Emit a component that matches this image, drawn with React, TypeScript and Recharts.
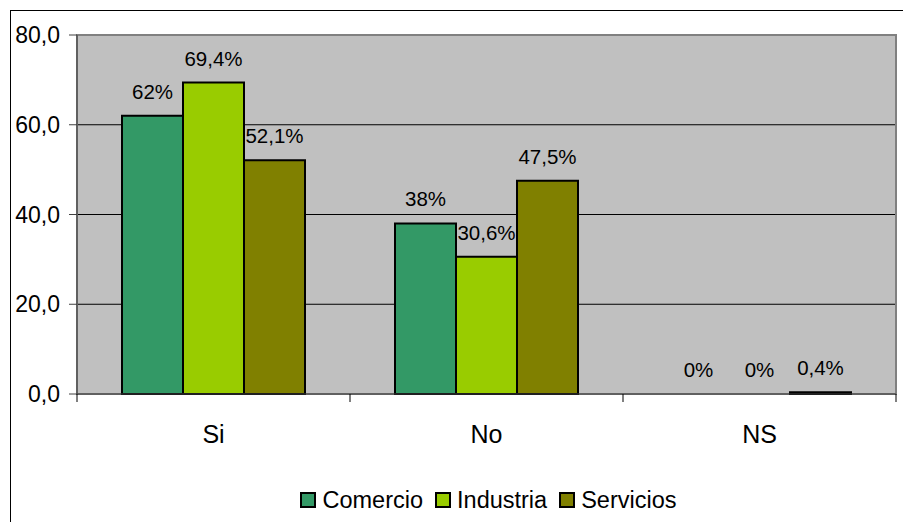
import { Bar, BarChart, CartesianGrid, LabelList, Legend, Rectangle, ReferenceArea, XAxis, YAxis } from "recharts";

const categories = ["Si", "No", "NS"];
const comercio = [62, 38, 0];
const industria = [69.4, 30.6, 0];
const servicios = [52.1, 47.5, 0.4];
const yTicks = [0, 20, 40, 60, 80];

const series = [
  { key: "comercio", name: "Comercio", color: "#339966" },
  { key: "industria", name: "Industria", color: "#99CC00" },
  { key: "servicios", name: "Servicios", color: "#808000" },
];

const chartData = categories.map((cat, i) => ({
  cat,
  comercio: comercio[i],
  industria: industria[i],
  servicios: servicios[i],
}));

const FONT = "'Liberation Sans', Arial, sans-serif";

const pct = (v: any) => {
  const n = Number(v);
  return (Number.isInteger(n) ? String(n) : String(n).replace(".", ",")) + "%";
};

// zero bars keep a tiny rect so their label is drawn, but the rect itself is hidden
const barShape = (p: any) => (p.height < 0.5 ? <g /> : <Rectangle {...p} />);

// category label plus tick marks on the band edges (Excel style)
const CatTick = (p: any) => {
  const { x, y, payload, index, visibleTicksCount } = p;
  const half = payload.offset ?? 0;
  return (
    <g>
      <line x1={x - half} x2={x - half} y1={y} y2={y + 8} stroke="#000" />
      {index === visibleTicksCount - 1 && <line x1={x + half} x2={x + half} y1={y} y2={y + 8} stroke="#000" />}
      <text x={x} y={y + 49} textAnchor="middle" fontSize={25} fontFamily={FONT} fill="#000">
        {payload.value}
      </text>
    </g>
  );
};

function LegendBox() {
  return (
    <div
      style={{
        display: "flex",
        justifyContent: "center",
        alignItems: "center",
        height: 36,
        fontFamily: FONT,
        fontSize: 23.5,
        color: "#000",
      }}
    >
      {series.map((s, i) => (
        <div key={s.key} style={{ display: "flex", alignItems: "center", marginLeft: i ? 12 : 0 }}>
          <span
            style={{
              display: "inline-block",
              width: 16,
              height: 16,
              boxSizing: "border-box",
              border: "2px solid #000",
              background: s.color,
              marginRight: 6,
            }}
          />
          <span>{s.name}</span>
        </div>
      ))}
    </div>
  );
}

export default function App() {
  return (
    <div style={{ position: "absolute", left: 0, top: 0, width: 903, height: 522, overflow: "hidden", background: "#fff" }}>
      <div style={{ position: "absolute", left: 10, top: 10, width: 1000, height: 1000, border: "1px solid #000" }} />
      <div style={{ position: "absolute", left: 0, top: 0 }}>
        <BarChart
          width={903}
          height={522}
          data={chartData}
          margin={{ top: 35, right: 7, bottom: 12, left: 0 }}
          barCategoryGap={45}
          barGap={0}
        >
          <CartesianGrid vertical={false} fill="#C0C0C0" stroke="#000" horizontalValues={yTicks} />
          <ReferenceArea y1={0} y2={80} fill="none" stroke="#808080" strokeWidth={2} />
          <XAxis
            dataKey="cat"
            stroke="#404040"
            tickLine={false}
            tickSize={0}
            tickMargin={0}
            height={80}
            interval={0}
            tick={<CatTick />}
          />
          <YAxis
            domain={[0, 80]}
            ticks={yTicks}
            width={77}
            tickSize={8}
            tickMargin={9}
            stroke="#404040"
            tickFormatter={(v: number) => v.toFixed(1).replace(".", ",")}
            tick={{ fill: "#000", fontSize: 23, fontFamily: FONT }}
          />
          {series.map((s) => (
            <Bar
              key={s.key}
              dataKey={s.key}
              name={s.name}
              fill={s.color}
              stroke="#000"
              strokeWidth={2}
              minPointSize={0.01}
              shape={barShape}
              isAnimationActive={false}
            >
              <LabelList
                dataKey={s.key}
                position="top"
                offset={17}
                formatter={pct}
                fill="#000"
                fontSize={20.5}
                fontFamily={FONT}
              />
            </Bar>
          ))}
          <Legend
            verticalAlign="bottom"
            content={() => <LegendBox />}
            wrapperStyle={{ position: "absolute", top: 482, left: 80, width: 817, height: 36, bottom: "auto" }}
          />
        </BarChart>
      </div>
    </div>
  );
}
